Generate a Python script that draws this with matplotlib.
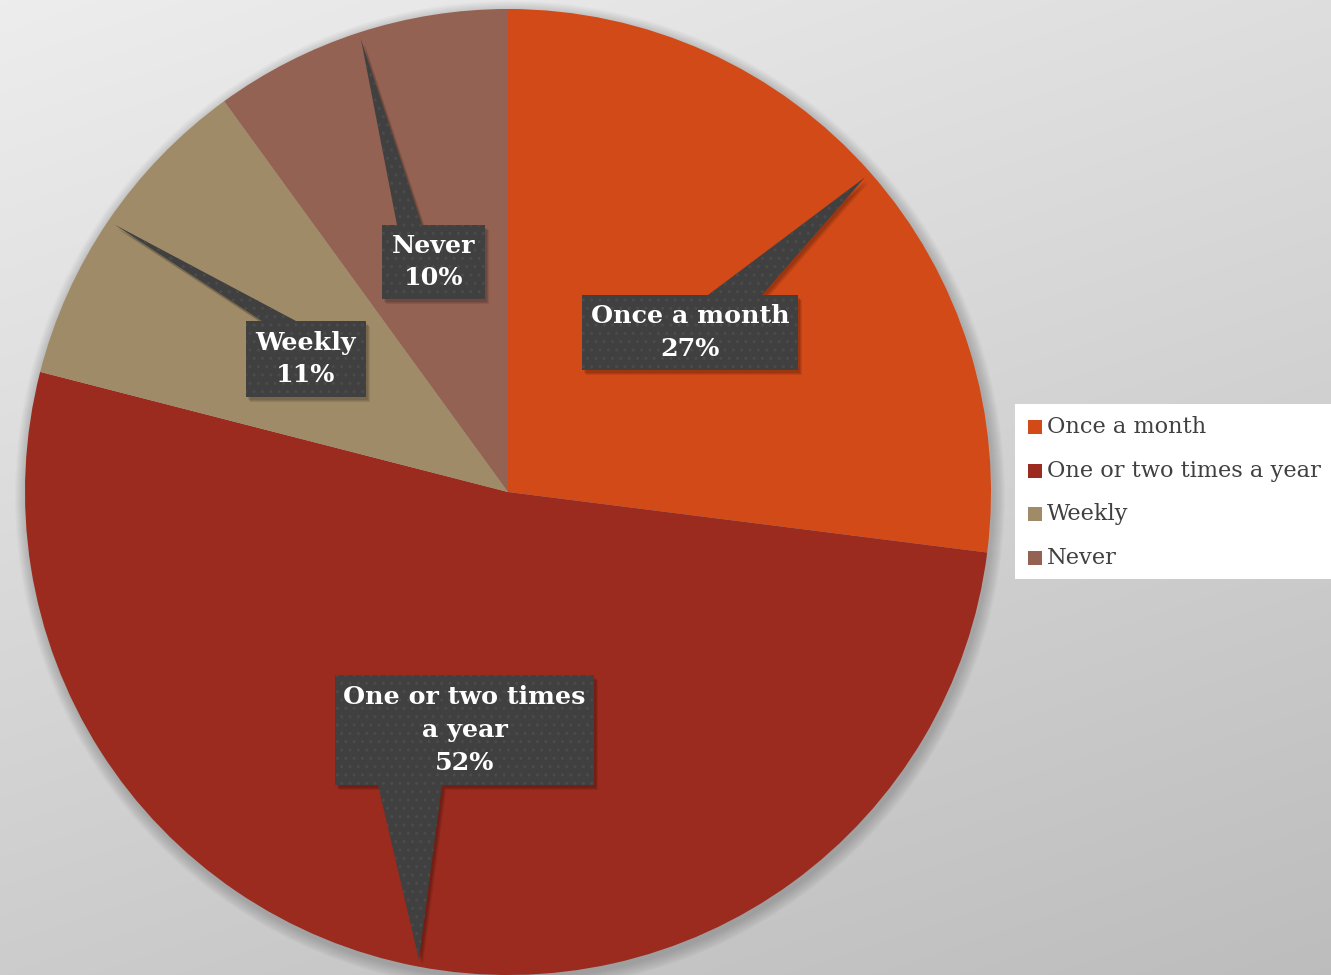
import matplotlib
matplotlib.use("Agg")
import matplotlib.pyplot as plt
from matplotlib.patches import Polygon, Rectangle, Circle
import numpy as np

# data
categories = ["Once a month", "One or two times a year", "Weekly", "Never"]
shares = [27, 52, 11, 10]
colors = ["#D24A17", "#9A2B1E", "#A08B68", "#946252"]

W, H = 1331, 975
fig = plt.figure(figsize=(W / 100, H / 100), dpi=100)
ax = fig.add_axes([0, 0, 1, 1])

# gray gradient background (lighter top-left, darker bottom-right)
yy, xx = np.mgrid[0:H, 0:W]
bg = 0.93 - 0.13 * (yy / H) - 0.06 * (xx / W)
ax.imshow(np.dstack([bg, bg, bg]), extent=[0, W, 0, H], origin="upper", zorder=0)

cx, cy, r = 508, H - 492, 483

# soft shadow under pie
for k in range(12):
    ax.add_patch(Circle((cx + 2, cy - 4), r + 12 - k, color="black", alpha=0.016, lw=0, zorder=1))

wedges, _ = ax.pie(shares, colors=colors, startangle=90, counterclock=False,
                   center=(cx, cy), radius=r, frame=True,
                   wedgeprops=dict(linewidth=0))
for w in wedges:
    w.set_zorder(2)
ax.set_xlim(0, W)
ax.set_ylim(0, H)
ax.set_aspect("equal")
ax.axis("off")

# callout layout: box (left, top, right, bottom) in px from top, pointer base x-range, side
callouts = [
    dict(box=(582, 295, 798, 370), base=(708, 762), side="top", text="Once a month\n27%"),
    dict(box=(335, 675, 594, 785), base=(378, 442), side="bottom", text="One or two times\na year\n52%"),
    dict(box=(246, 321, 366, 397), base=(262, 296), side="top", text="Weekly\n11%"),
    dict(box=(382, 225, 485, 299), base=(397, 422), side="top", text="Never\n10%"),
]

for w, c in zip(wedges, callouts):
    mid = np.deg2rad((w.theta1 + w.theta2) / 2)
    tip = (cx + 0.985 * r * np.cos(mid), cy + 0.985 * r * np.sin(mid))
    x0, t, x1, b = c["box"]
    yt, yb = H - t, H - b
    bx0, bx1 = c["base"]
    if c["side"] == "top":
        pts = [(x0, yb), (x0, yt), (bx0, yt), tip, (bx1, yt), (x1, yt), (x1, yb)]
    else:
        pts = [(x0, yb), (x0, yt), (x1, yt), (x1, yb), (bx1, yb), tip, (bx0, yb)]
    for s in range(3):
        ax.add_patch(Polygon([(px + 2 + s, py - 3 - s) for px, py in pts], closed=True,
                             facecolor="black", alpha=0.09, lw=0, zorder=3))
    ax.add_patch(Polygon(pts, closed=True, facecolor="#404040", lw=0, zorder=4))
    ax.add_patch(Polygon(pts, closed=True, facecolor="none", edgecolor="#4b4b4b",
                         hatch="..", lw=0, zorder=4))
    ax.text((x0 + x1) / 2, (yt + yb) / 2, c["text"], ha="center", va="center",
            color="white", fontsize=18.3, fontweight="bold", family="DejaVu Serif",
            linespacing=1.45, zorder=5)

# legend box (runs off the right edge like the original)
ax.add_patch(Rectangle((1015, H - 579), 400, 175, facecolor="white", lw=0, zorder=3))
for i, (lab, col) in enumerate(zip(categories, colors)):
    y = H - (427 + i * 43.5)
    ax.add_patch(Rectangle((1028, y - 7), 14, 14, facecolor=col, lw=0, zorder=4))
    ax.text(1047, y, lab, ha="left", va="center", fontsize=16.2, color="#404040",
            family="DejaVu Serif", zorder=5)

fig.savefig("out.png", dpi=100)
